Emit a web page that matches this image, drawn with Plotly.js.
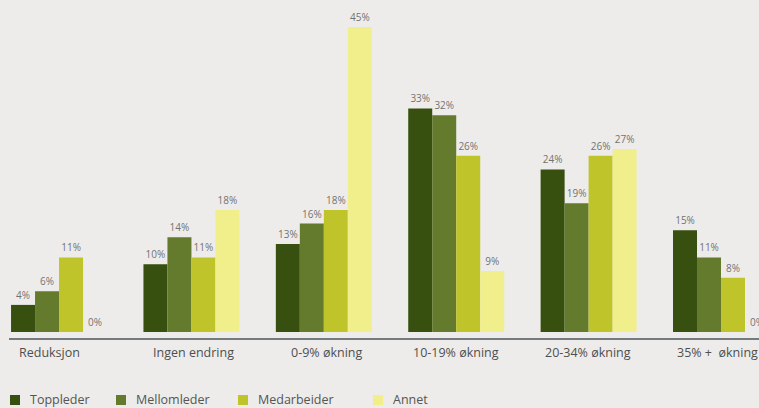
<!DOCTYPE html>
<html>
<head>
<meta charset="utf-8">
<script src="https://cdn.plot.ly/plotly-3.0.1.min.js"></script>
<style>html,body{margin:0;padding:0;background:#EDECEA;}#chart{width:759px;height:408px;}</style>
</head>
<body>
<div id="chart"></div>
<script>
const categories = ["Reduksjon", "Ingen endring", "0-9% økning", "10-19% økning", "20-34% økning", "35% +\u00a0 økning"];
const seriesNames = ["Toppleder", "Mellomleder", "Medarbeider", "Annet"];
const toppleder = [4, 10, 13, 33, 24, 15];
const mellomleder = [6, 14, 16, 32, 19, 11];
const medarbeider = [11, 11, 18, 26, 26, 8];
const annet = [0, 18, 45, 9, 27, 0];
const colors = ["#374F0F", "#647B2D", "#BFC42A", "#F0EF8C"];

const values = [toppleder, mellomleder, medarbeider, annet];
const traces = values.map((v, i) => ({
  type: "bar",
  name: seriesNames[i],
  x: categories,
  y: v,
  marker: {color: colors[i], line: {width: 0}},
  text: v.map(d => d + "%"),
  textposition: "outside",
  textfont: {family: "Open Sans, sans-serif", size: 10, color: "#737373"},
  cliponaxis: false,
  hoverinfo: "skip"
}));

const W = 759, plotBottom = 332;
const px = p => p / W;
const py = p => (plotBottom - p) / plotBottom;

const legendX = [10, 116, 238, 373];
const labelShift = [-10, 2, 3, 0, -1, -4];
const shapes = [{
  type: "line", xref: "paper", yref: "paper",
  x0: px(9), x1: 1.01, y0: py(339), y1: py(339),
  line: {color: "#737B81", width: 2}
}];
const annotations = [];
categories.forEach((c, i) => {
  annotations.push({
    xref: "x", yref: "paper",
    x: c, y: py(353), xshift: labelShift[i],
    xanchor: "center", yanchor: "middle",
    text: c, showarrow: false,
    font: {family: "Open Sans, sans-serif", size: 12.5, color: "#4F4F4F"}
  });
});
seriesNames.forEach((n, i) => {
  shapes.push({
    type: "rect", xref: "paper", yref: "paper",
    x0: px(legendX[i]), x1: px(legendX[i] + 10),
    y0: py(405), y1: py(395),
    fillcolor: colors[i], line: {width: 0}
  });
  annotations.push({
    xref: "paper", yref: "paper",
    x: px(legendX[i] + 18), y: py(400),
    xanchor: "left", yanchor: "middle",
    text: n, showarrow: false,
    font: {family: "Open Sans, sans-serif", size: 12.5, color: "#555555"}
  });
});

const layout = {
  width: 759, height: 408,
  margin: {l: 0, r: 0, t: 0, b: 76, pad: 0},
  paper_bgcolor: "#EDECEA",
  plot_bgcolor: "#EDECEA",
  barmode: "group",
  bargap: 0.275,
  bargroupgap: 0,
  showlegend: false,
  xaxis: {
    type: "category",
    range: [-0.446, 5.287],
    showgrid: false, zeroline: false, showline: false,
    ticks: "", showticklabels: false
  },
  yaxis: {
    range: [0, 49],
    visible: false, showgrid: false, zeroline: false
  },
  shapes: shapes,
  annotations: annotations,
  font: {family: "Open Sans, sans-serif"}
};

Plotly.newPlot("chart", traces, layout, {displayModeBar: false, staticPlot: true});
</script>
</body>
</html>
